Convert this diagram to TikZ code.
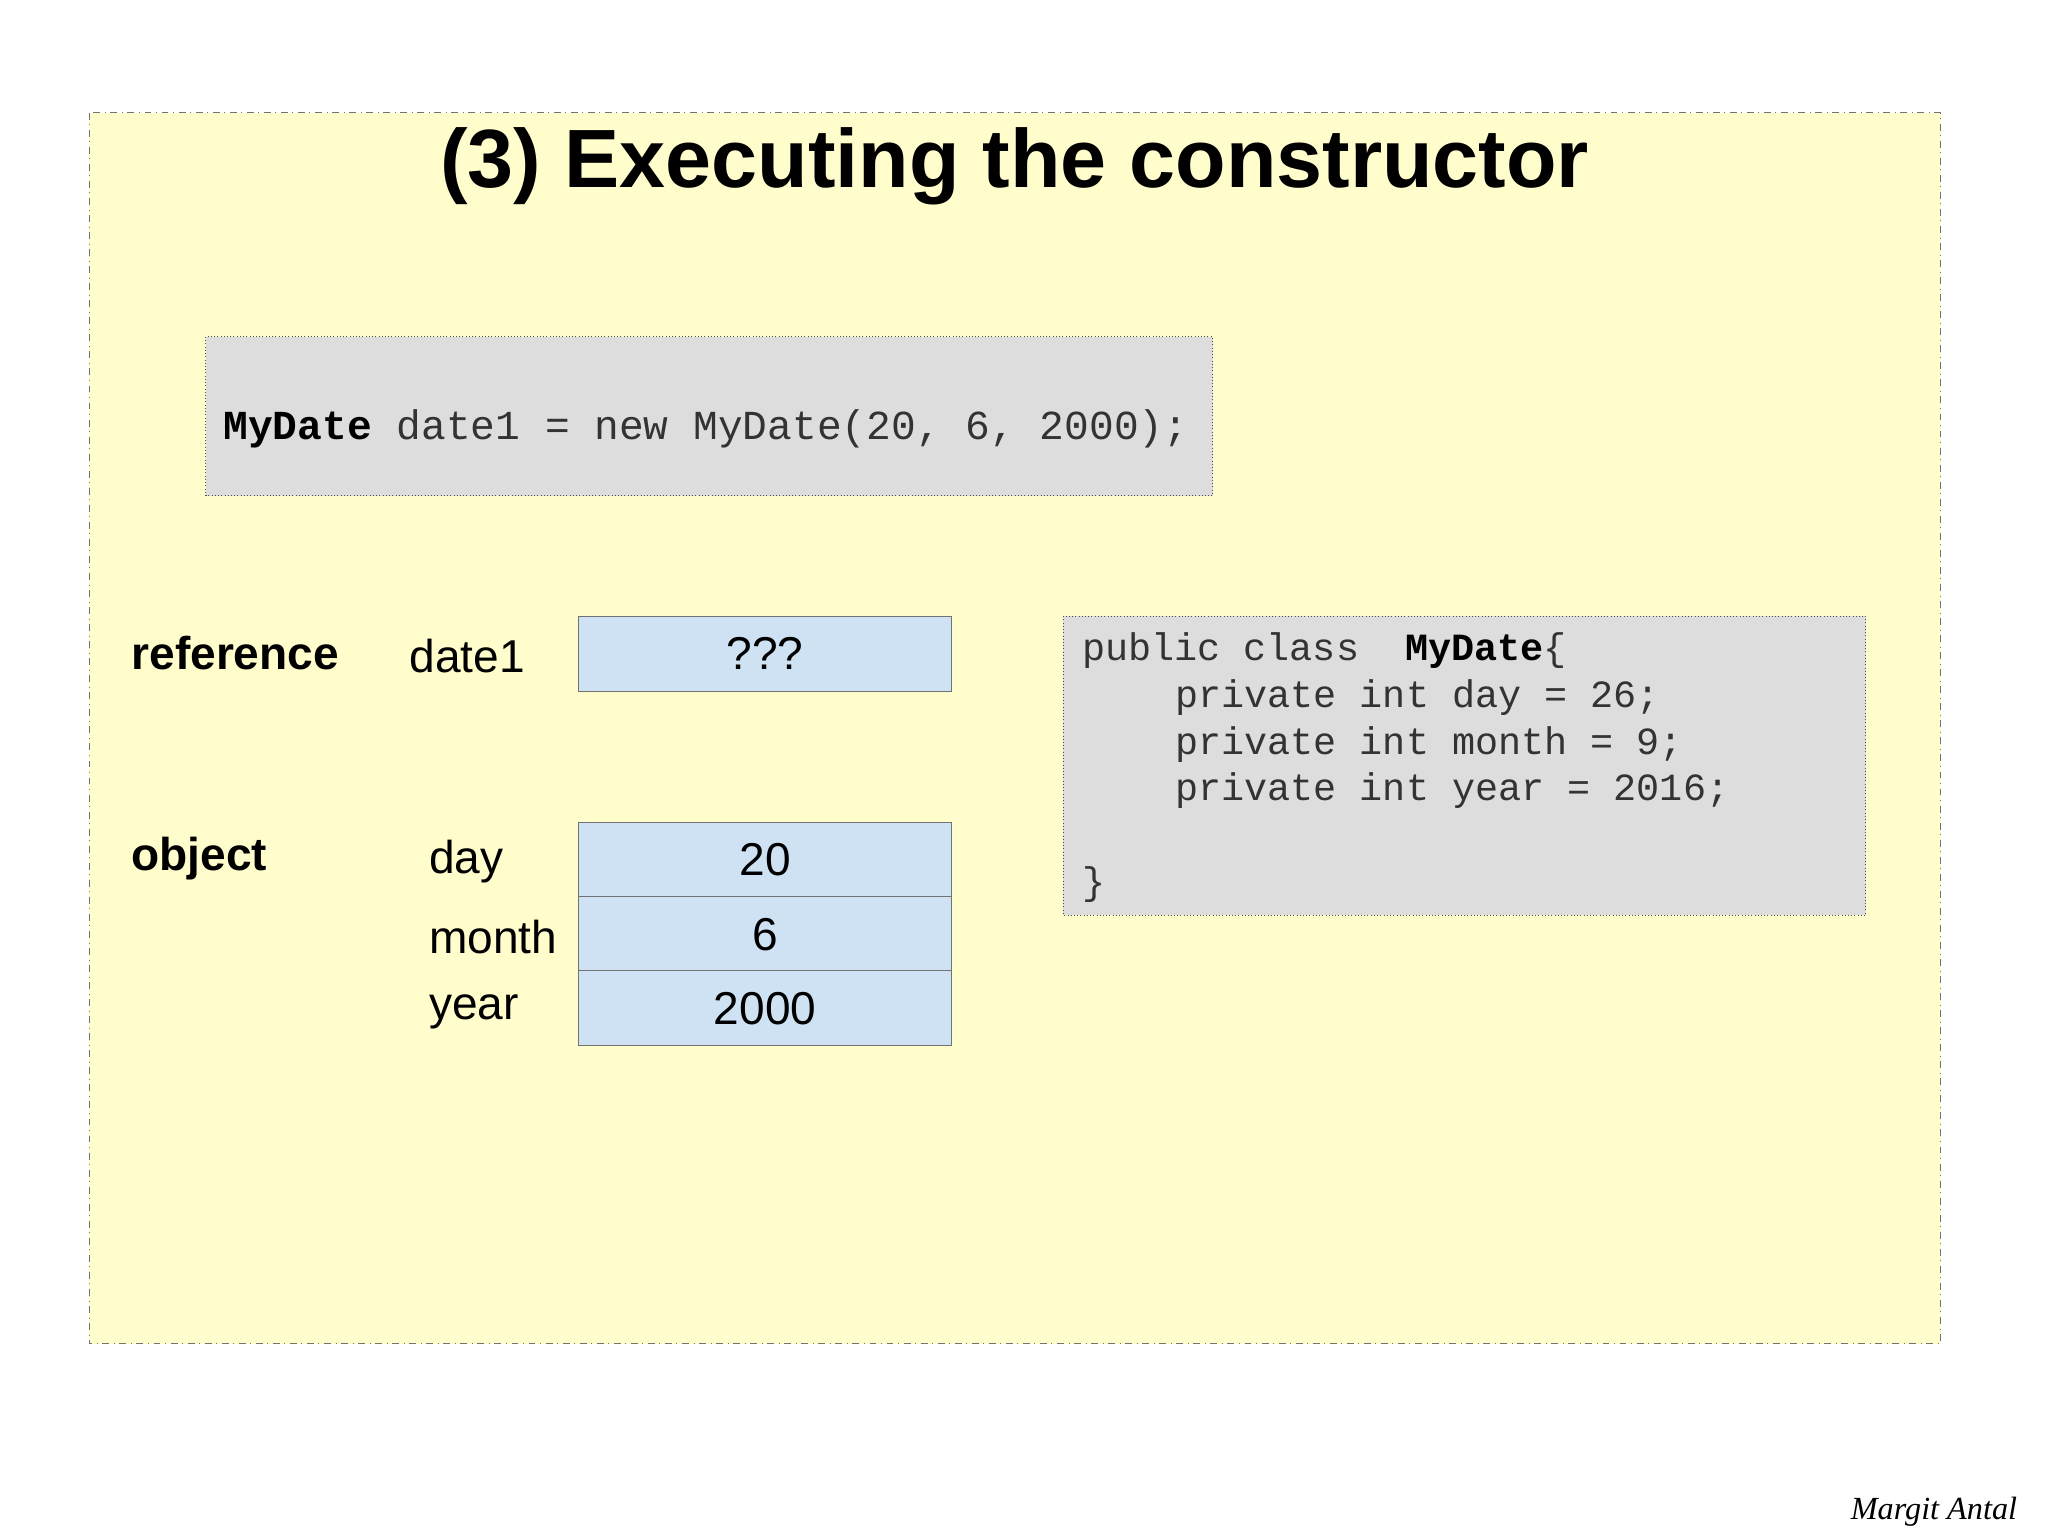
\documentclass[tikz,border=0pt]{standalone}
\usepackage{fontspec}
\setmainfont{Liberation Sans}
\setmonofont{Liberation Mono}
\newfontfamily\sigfont{Liberation Serif}
\begin{document}
\begin{tikzpicture}[x=0.02cm,y=-0.02cm,
  cell/.style={draw=black!55,fill=cellblue,minimum width=5.7cm,minimum height=1.14cm,inner sep=0pt,font=\fontsize{20}{24}\selectfont},
  lbl/.style={anchor=west,font=\fontsize{20}{24}\selectfont,inner sep=0pt},
  blbl/.style={anchor=west,font=\fontsize{20}{24}\selectfont\bfseries,inner sep=0pt},
  code/.style={anchor=west,inner sep=0pt,font=\ttfamily\fontsize{16.7}{20}\selectfont,text=black!80}]
\definecolor{bgyellow}{HTML}{FFFDCC}
\definecolor{cellblue}{HTML}{CFE2F3}
\definecolor{codegray}{HTML}{DDDDDD}
\useasboundingbox (0,0) rectangle (1562,1172);
\fill[white] (0,0) rectangle (1562,1172);
\draw[fill=bgyellow,draw=black!55,dash dot] (68,86) rectangle (1480,1025);
\node[font=\fontsize{35.9}{42}\selectfont\bfseries] (title) at (774,127) {(3) Executing the constructor};
\draw[fill=codegray,draw=black!70,densely dotted] (157,257) rectangle (925,378);
\node[anchor=west,inner sep=0pt,font=\ttfamily\fontsize{17.9}{22}\selectfont,text=black!80] (stmt) at (170,327) {\textbf{\textcolor{black}{MyDate}} date1 = new MyDate(20, 6, 2000);};
\node[blbl] (ref) at (100,498) {reference};
\node[lbl] (d1) at (312,500) {date1};
\node[cell] (q) at (583.5,498.5) {???};
\node[blbl] (obj) at (100,655) {object};
\node[lbl] (dl) at (327,657) {day};
\node[lbl] (ml) at (327,715) {month};
\node[lbl] (yl) at (327,772) {year};
\node[cell] (dv) at (583.5,655.5) {20};
\node[cell] (mv) at (583.5,712.5) {6};
\node[cell] (yv) at (583.5,769) {2000};
\draw[fill=codegray,draw=black!70,densely dotted] (811,470) rectangle (1423,698);
\node[code] (c1) at (825,496) {public class\ \ \textbf{\textcolor{black}{MyDate}}\{};
\node[code] (c2) at (896,532) {private int day = 26;};
\node[code] (c3) at (896,568) {private int month = 9;};
\node[code] (c4) at (896,603) {private int year = 2016;};
\node[code] (c5) at (825,675) {\}};
\node[font=\sigfont\itshape\fontsize{14}{16}\selectfont] (sig) at (1475,1153) {Margit Antal};
\end{tikzpicture}
\end{document}
